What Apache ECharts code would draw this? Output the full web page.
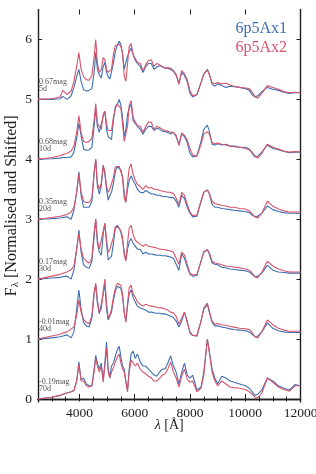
<!DOCTYPE html>
<html><head><meta charset="utf-8">
<script src="https://cdn.jsdelivr.net/npm/echarts@6/dist/echarts.min.js"></script>
<style>html,body{margin:0;padding:0;background:#fff}#c{width:316px;height:474px}</style>
</head><body><div id="c"></div>
<script>
const wavelength = [2500,3000,3300,3400,3550,3700,3800,3900,3980,4060,
4150,4250,4350,4450,4530,4590,4650,4720,4790,4860,
4920,4980,5040,5100,5160,5230,5300,5370,5440,5500,
5560,5620,5680,5740,5800,5870,5940,6020,6100,6200,
6300,6400,6500,6600,6700,6800,6900,7000,7100,7200,
7300,7400,7500,7600,7700,7800,7900,8000,8100,8250,
8400,8500,8630,8700,8800,8900,9000,9150,9300,9450,
9600,9800,10000,10150,10250,10350,10450,10600,10800,11000,
11200,11400,11600,11800,12000];

const epochs = ['5d','10d','20d','30d','40d','70d'];
const mags = ['0.67mag','0.68mag','0.35mag','0.17mag','-0.01mag','-0.19mag'];
const offsets = [5,4,3,2,1,0];
const xMajorTicks = [4000,6000,8000,10000,12000];
const yTicks = [0,1,2,3,4,5,6];

const ax1_5d = [0,0,0.01,0.05,0,0.06,0.2,0.38,0.5,0.3,
0.16,0.14,0.15,0.18,0.45,0.78,0.5,0.4,0.36,0.55,
0.62,0.45,0.38,0.34,0.33,0.6,0.8,0.9,0.97,0.92,
0.75,0.5,0.62,0.72,0.75,0.86,0.75,0.65,0.6,0.55,
0.45,0.55,0.6,0.6,0.5,0.54,0.56,0.55,0.52,0.52,
0.5,0.47,0.4,0.27,0.45,0.4,0.3,0.1,0.04,0.08,
0.28,0.42,0.5,0.42,0.25,0.22,0.26,0.23,0.2,0.22,
0.21,0.2,0.18,0.15,0.08,0.04,0.06,0.13,0.2,0.17,
0.15,0.12,0.1,0.11,0.11];
const ax2_5d = [0,0.01,0.04,0.15,0.08,0.14,0.3,0.55,0.78,0.5,
0.38,0.33,0.32,0.4,0.7,1.0,0.6,0.45,0.5,0.7,
0.66,0.5,0.45,0.47,0.5,0.75,0.9,0.93,0.92,0.88,
0.78,0.4,0.3,0.6,0.88,0.93,0.75,0.68,0.62,0.6,
0.48,0.58,0.65,0.66,0.55,0.6,0.58,0.54,0.52,0.53,
0.52,0.48,0.42,0.25,0.48,0.43,0.33,0.15,0.06,0.08,
0.28,0.42,0.49,0.42,0.28,0.26,0.28,0.26,0.27,0.24,
0.22,0.2,0.19,0.18,0.12,0.05,0.02,0.1,0.23,0.2,
0.17,0.13,0.11,0.12,0.11];
const ax1_10d = [0,0.01,0.02,0.03,0.03,0.04,0.12,0.35,0.6,0.4,
0.17,0.15,0.16,0.2,0.55,0.85,0.55,0.45,0.42,0.72,
0.8,0.5,0.38,0.35,0.33,0.65,0.88,0.92,1.0,0.9,
0.7,0.38,0.5,0.75,0.85,0.92,0.65,0.6,0.55,0.5,
0.42,0.5,0.55,0.55,0.48,0.52,0.5,0.47,0.46,0.45,
0.42,0.45,0.38,0.25,0.42,0.38,0.28,0.1,0.04,0.06,
0.3,0.5,0.57,0.47,0.25,0.24,0.26,0.24,0.25,0.22,
0.22,0.2,0.2,0.17,0.1,0.04,0.05,0.12,0.24,0.18,
0.16,0.13,0.11,0.12,0.12];
const ax2_10d = [0,0.03,0.06,0.08,0.1,0.14,0.22,0.45,0.73,0.45,
0.3,0.28,0.3,0.35,0.65,0.93,0.6,0.55,0.5,0.75,
0.8,0.6,0.48,0.47,0.48,0.7,0.85,0.92,0.95,0.85,
0.6,0.3,0.28,0.55,0.9,0.98,0.7,0.62,0.56,0.55,
0.45,0.55,0.62,0.62,0.5,0.55,0.53,0.5,0.48,0.47,
0.45,0.45,0.4,0.23,0.44,0.4,0.32,0.18,0.07,0.05,
0.25,0.42,0.46,0.42,0.28,0.26,0.27,0.25,0.24,0.22,
0.21,0.2,0.18,0.16,0.12,0.06,0.02,0.1,0.25,0.2,
0.17,0.14,0.12,0.13,0.12];
const ax1_20d = [0,0.01,0.02,0.03,0.04,0,0.15,0.45,0.79,0.4,
0.2,0.2,0.2,0.3,0.75,1.0,0.55,0.42,0.55,0.9,
0.75,0.5,0.32,0.4,0.45,0.6,0.8,0.88,0.85,0.82,
0.7,0.45,0.3,0.5,0.65,0.72,0.65,0.58,0.5,0.45,
0.44,0.48,0.45,0.42,0.42,0.4,0.4,0.38,0.38,0.37,
0.36,0.36,0.3,0.2,0.4,0.35,0.2,0.1,0.04,0.05,
0.3,0.45,0.49,0.42,0.25,0.2,0.2,0.18,0.17,0.16,
0.15,0.14,0.13,0.11,0.07,0.04,0.05,0.1,0.22,0.16,
0.13,0.11,0.1,0.1,0.1];
const ax2_20d = [0,0.03,0.05,0.06,0.08,0.12,0.2,0.45,0.76,0.45,
0.3,0.28,0.28,0.35,0.78,1.0,0.6,0.5,0.6,0.9,
0.8,0.55,0.45,0.5,0.5,0.7,0.88,0.9,0.88,0.85,
0.7,0.35,0.28,0.6,0.85,0.92,0.75,0.65,0.58,0.55,
0.5,0.56,0.52,0.53,0.5,0.5,0.48,0.47,0.46,0.45,
0.45,0.43,0.35,0.25,0.45,0.4,0.25,0.12,0.06,0.07,
0.3,0.45,0.49,0.43,0.3,0.26,0.25,0.23,0.22,0.2,
0.2,0.18,0.17,0.14,0.09,0.04,0.02,0.1,0.3,0.22,
0.17,0.14,0.12,0.12,0.12];
const ax1_30d = [0,0.02,0.03,0.04,0.05,0,0.15,0.5,0.82,0.45,
0.24,0.2,0.18,0.3,0.7,1.0,0.6,0.45,0.4,0.75,
0.93,0.6,0.32,0.35,0.38,0.6,0.85,0.9,0.85,0.78,
0.65,0.45,0.32,0.5,0.62,0.68,0.6,0.55,0.5,0.5,
0.42,0.45,0.42,0.42,0.41,0.4,0.4,0.39,0.39,0.38,
0.37,0.35,0.25,0.15,0.42,0.35,0.2,0.08,0.05,0.06,
0.3,0.45,0.49,0.42,0.27,0.25,0.24,0.2,0.19,0.17,
0.16,0.15,0.14,0.12,0.08,0.04,0.05,0.1,0.23,0.15,
0.12,0.11,0.1,0.1,0.1];
const ax2_30d = [0,0.05,0.08,0.1,0.12,0.16,0.22,0.5,0.76,0.5,
0.35,0.3,0.27,0.35,0.78,1.0,0.65,0.5,0.5,0.8,
0.93,0.65,0.45,0.5,0.5,0.7,0.88,0.9,0.85,0.8,
0.7,0.4,0.3,0.6,0.85,0.9,0.75,0.65,0.62,0.58,
0.55,0.58,0.55,0.54,0.53,0.52,0.5,0.5,0.49,0.48,
0.47,0.45,0.35,0.25,0.45,0.4,0.25,0.1,0.07,0.08,
0.3,0.46,0.49,0.44,0.3,0.27,0.26,0.24,0.22,0.21,
0.2,0.19,0.17,0.15,0.1,0.04,0.02,0.12,0.3,0.22,
0.17,0.14,0.12,0.12,0.12];
const ax1_40d = [0,0.02,0.04,0.05,0.07,0.02,0.12,0.5,0.82,0.5,
0.28,0.22,0.2,0.35,0.75,0.9,0.6,0.42,0.4,0.75,
0.93,0.5,0.32,0.38,0.45,0.65,0.8,0.88,0.9,0.85,
0.7,0.45,0.3,0.55,0.75,0.82,0.7,0.62,0.55,0.52,
0.5,0.48,0.45,0.45,0.44,0.43,0.43,0.42,0.42,0.4,
0.38,0.36,0.3,0.2,0.3,0.45,0.3,0.1,0.06,0.05,
0.3,0.5,0.58,0.45,0.28,0.22,0.22,0.2,0.19,0.17,
0.16,0.15,0.14,0.12,0.08,0.04,0.05,0.12,0.27,0.18,
0.14,0.12,0.11,0.11,0.11];
const ax2_40d = [0,0.05,0.08,0.1,0.12,0.17,0.2,0.4,0.65,0.45,
0.33,0.28,0.26,0.38,0.78,0.93,0.65,0.45,0.5,0.8,
1.0,0.6,0.35,0.4,0.5,0.7,0.85,0.93,0.92,0.9,
0.75,0.45,0.28,0.6,0.85,0.9,0.75,0.7,0.62,0.58,
0.55,0.58,0.56,0.55,0.54,0.53,0.52,0.52,0.5,0.48,
0.45,0.44,0.38,0.25,0.35,0.45,0.28,0.12,0.06,0.06,
0.3,0.52,0.6,0.47,0.3,0.25,0.26,0.24,0.23,0.21,
0.2,0.18,0.17,0.16,0.11,0.04,0.02,0.12,0.32,0.24,
0.18,0.15,0.13,0.13,0.13];
const ax1_70d = [0,0.03,0.06,0.08,0.1,0.12,0.14,0.3,0.62,0.32,
0.35,0.25,0.22,0.22,0.5,0.73,0.6,0.5,0.6,0.32,
0.6,0.95,0.5,0.38,0.55,0.6,0.72,0.82,0.88,0.7,
0.55,0.5,0.3,0.14,0.5,0.75,0.8,0.68,0.75,0.62,
0.55,0.55,0.5,0.45,0.4,0.38,0.45,0.5,0.5,0.6,
0.72,0.55,0.45,0.25,0.45,0.6,0.4,0.35,0.4,0.15,
0.2,0.45,1.0,0.8,0.5,0.35,0.25,0.38,0.35,0.3,
0.28,0.25,0.22,0.18,0.12,0.06,0.08,0.15,0.35,0.3,
0.22,0.18,0.15,0.24,0.22];
const ax2_70d = [0,0.03,0.06,0.08,0.1,0.12,0.14,0.3,0.58,0.3,
0.3,0.22,0.2,0.22,0.45,0.68,0.55,0.45,0.55,0.28,
0.55,0.85,0.45,0.35,0.45,0.52,0.62,0.7,0.75,0.6,
0.5,0.45,0.28,0.12,0.45,0.65,0.68,0.55,0.6,0.5,
0.45,0.42,0.38,0.35,0.3,0.3,0.35,0.4,0.42,0.5,
0.62,0.45,0.35,0.2,0.38,0.5,0.33,0.28,0.3,0.12,
0.18,0.4,1.0,0.78,0.45,0.3,0.22,0.3,0.25,0.2,
0.19,0.18,0.16,0.12,0.08,0.03,0.02,0.1,0.35,0.28,
0.2,0.16,0.13,0.22,0.22];

const model1 = [ax1_5d, ax1_10d, ax1_20d, ax1_30d, ax1_40d, ax1_70d];
const model2 = [ax2_5d, ax2_10d, ax2_20d, ax2_30d, ax2_40d, ax2_70d];

const BLUE = '#3d6fb2', RED = '#d6546b';
const FONT = 'Liberation Serif, DejaVu Serif, serif';
const XMIN = 2500, XMAX = 12000, YMIN = -0.05, YMAX = 6.5;
const frame = {show:true, lineStyle:{color:'#1e1e1e', width:1.4}};
const plain = v => String(v);

const series = [];
epochs.forEach((ep, i) => {
  series.push({name:'6p5Ax1', type:'line', xAxisIndex:0, yAxisIndex:0, symbol:'none', smooth:false,
    lineStyle:{color:BLUE, width:1.1}, itemStyle:{color:BLUE},
    data: wavelength.map((w, j) => [w, model1[i][j] + offsets[i]])});
  series.push({name:'6p5Ax2', type:'line', xAxisIndex:0, yAxisIndex:0, symbol:'none', smooth:false,
    lineStyle:{color:RED, width:1.1}, itemStyle:{color:RED},
    data: wavelength.map((w, j) => [w, model2[i][j] + offsets[i]])});
});
series.push({type:'scatter', xAxisIndex:0, yAxisIndex:0, symbolSize:0, silent:true,
  data: epochs.map((ep, i) => ({value:[2540, offsets[i] + 0.235], name: mags[i] + '\n' + ep})),
  label:{show:true, position:'right', distance:0, formatter: p => p.name,
    fontFamily:FONT, fontSize:8, lineHeight:7, color:'#222'}});

const gridPos = {left:38, right:15.5, top:9.5, bottom:72, outerBoundsMode:'none', containLabel:false};
const option = {
  animation:false,
  backgroundColor:'#fff',
  grid:[Object.assign({}, gridPos), Object.assign({}, gridPos)],
  legend:{orient:'vertical', right:19, top:16, itemWidth:0, itemHeight:0, itemGap:3, align:'right',
    selectedMode:false, icon:'rect',
    textStyle:{fontFamily:FONT, fontSize:16},
    data:[{name:'6p5Ax1', textStyle:{color:BLUE}}, {name:'6p5Ax2', textStyle:{color:RED}}]},
  xAxis:[
    {type:'value', gridIndex:0, min:XMIN, max:XMAX, interval:500, position:'bottom',
     axisLine:frame, splitLine:{show:false},
     axisTick:{show:true, inside:true, length:2.5, lineStyle:{color:'#1e1e1e'}},
     axisLabel:{customValues:xMajorTicks, formatter:plain, fontFamily:FONT, fontSize:13.5, color:'#1e1e1e', margin:4},
     name:'{i|λ} [Å]', nameLocation:'middle', nameGap:16, nameMoveOverlap:false,
     nameTextStyle:{fontFamily:FONT, fontSize:14, color:'#1e1e1e', verticalAlign:'top', rich:{i:{fontFamily:FONT, fontStyle:'italic', fontSize:14, color:'#1e1e1e'}}}},
    {type:'value', gridIndex:0, min:XMIN, max:XMAX, interval:500, position:'top',
     axisLine:frame, splitLine:{show:false},
     axisTick:{show:true, inside:true, length:2.5, lineStyle:{color:'#1e1e1e'}}, axisLabel:{show:false}},
    {type:'value', gridIndex:1, min:XMIN, max:XMAX, position:'bottom',
     axisLine:{show:false}, splitLine:{show:false},
     axisTick:{show:true, inside:true, length:5, customValues:xMajorTicks, lineStyle:{color:'#1e1e1e'}}, axisLabel:{show:false}},
    {type:'value', gridIndex:1, min:XMIN, max:XMAX, position:'top',
     axisLine:{show:false}, splitLine:{show:false},
     axisTick:{show:true, inside:true, length:5, customValues:xMajorTicks, lineStyle:{color:'#1e1e1e'}}, axisLabel:{show:false}}
  ],
  yAxis:[
    {type:'value', gridIndex:0, min:YMIN, max:YMAX, position:'left',
     axisLine:frame, splitLine:{show:false},
     axisTick:{show:true, inside:true, length:4, customValues:yTicks, lineStyle:{color:'#1e1e1e'}},
     axisLabel:{customValues:yTicks, formatter:plain, fontFamily:FONT, fontSize:13.5, color:'#1e1e1e', margin:6},
     name:'F{s|λ} [Normalised and Shifted]', nameLocation:'middle', nameGap:17, nameMoveOverlap:false,
     nameTextStyle:{fontFamily:FONT, fontSize:16, color:'#1e1e1e', rich:{s:{fontFamily:FONT, fontSize:11, color:'#1e1e1e', verticalAlign:'bottom', padding:[7,0,0,0]}}}},
    {type:'value', gridIndex:0, min:YMIN, max:YMAX, position:'right',
     axisLine:frame, splitLine:{show:false},
     axisTick:{show:true, inside:true, length:4, customValues:yTicks, lineStyle:{color:'#1e1e1e'}}, axisLabel:{show:false}},
    {type:'value', gridIndex:1, min:YMIN, max:YMAX, show:false}
  ],
  series: series
};
const chart = echarts.init(document.getElementById('c'), null, {renderer:'canvas'});
chart.setOption(option);
</script></body></html>
